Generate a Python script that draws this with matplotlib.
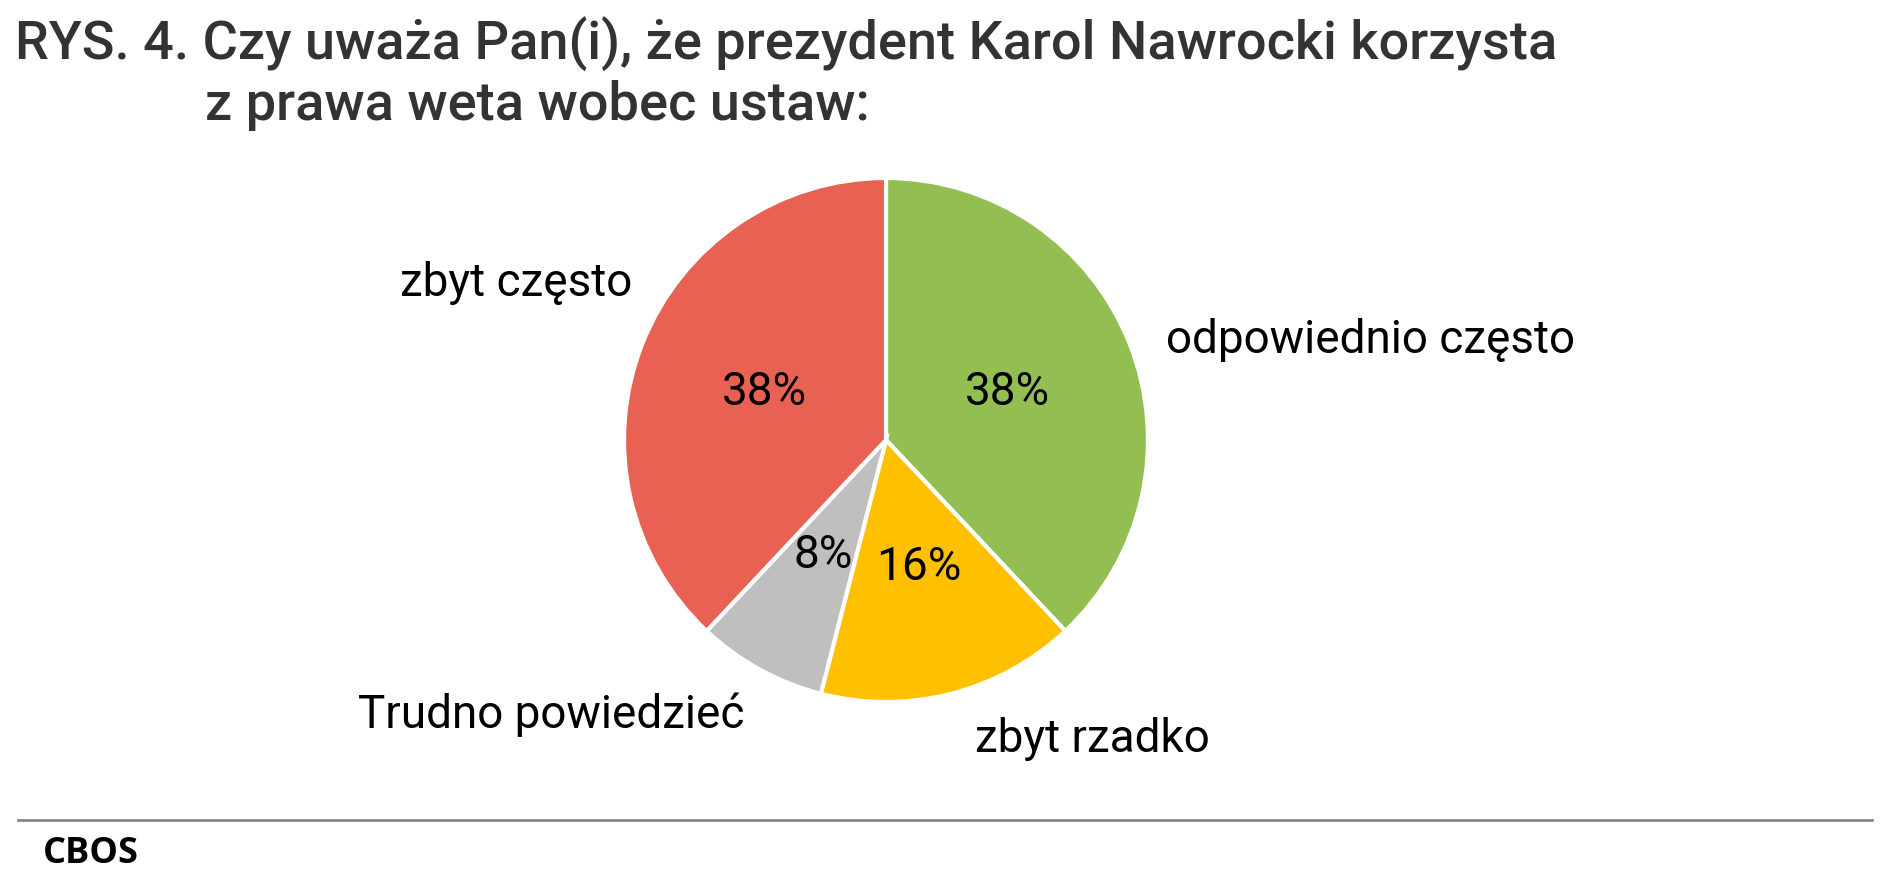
import matplotlib
matplotlib.use("Agg")
import matplotlib.pyplot as plt
from matplotlib.lines import Line2D

# data (clockwise from 12 o'clock)
categories = ["odpowiednio często", "zbyt rzadko", "Trudno powiedzieć", "zbyt często"]
values = [38, 16, 8, 38]
colors = ["#93BF52", "#FFC000", "#BFBFBF", "#E86153"]

title_lines = [
    "RYS. 4. Czy uważa Pan(i), że prezydent Karol Nawrocki korzysta",
    "z prawa weta wobec ustaw:",
]
source = "CBOS"

# label anchors in units of pie radius, with horizontal alignment
label_layout = [
    (1.07, 0.38, "left"),
    (0.34, -1.14, "left"),
    (-0.54, -1.05, "right"),
    (-0.97, 0.60, "right"),
]

W, H = 1891, 883
fig = plt.figure(figsize=(W / 100, H / 100), dpi=100)
plt.rcParams["font.family"] = ["Roboto", "DejaVu Sans"]

cx, cy, r = 886, 440, 262
ax = fig.add_axes([(cx - r) / W, (H - cy - r) / H, 2 * r / W, 2 * r / H])
wedges, _, autotexts = ax.pie(
    values,
    colors=colors,
    startangle=90,
    counterclock=False,
    autopct=lambda p: f"{p:.0f}%",
    pctdistance=0.5,
    wedgeprops=dict(edgecolor="white", linewidth=3),
    textprops=dict(fontsize=33, color="black"),
)
ax.set_xlim(-1, 1)
ax.set_ylim(-1, 1)
ax.set_aspect("equal")
ax.axis("off")

for name, (lx, ly, ha) in zip(categories, label_layout):
    ax.text(lx, ly, name, ha=ha, va="center", fontsize=33, color="black",
            clip_on=False)

fig.text(15 / W, 1 - 60 / H, title_lines[0], fontsize=39, fontweight="medium",
         color="#333333", ha="left", va="baseline")
fig.text(205 / W, 1 - 120 / H, title_lines[1], fontsize=39, fontweight="medium",
         color="#333333", ha="left", va="baseline")

fig.add_artist(Line2D([18 / W, 1872 / W], [1 - 820 / H, 1 - 820 / H],
                      color="#888888", linewidth=2, transform=fig.transFigure))
fig.text(43 / W, 1 - 863 / H, source, fontsize=26, fontweight="bold",
         family=["Open Sans", "DejaVu Sans"], color="black", ha="left",
         va="baseline")

fig.savefig("out.png", dpi=100, facecolor="white")
